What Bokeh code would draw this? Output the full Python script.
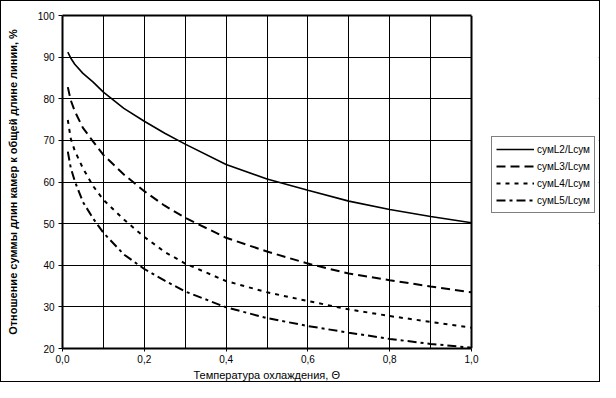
from bokeh.plotting import figure
from bokeh.models import (Legend, LegendItem, FixedTicker, CustomJSTickFormatter, ColumnDataSource,
                          BoxAnnotation, Span, LinearAxis, Title)
from bokeh.embed import file_html
from bokeh.resources import INLINE

theta = [0.013, 0.02, 0.03, 0.05, 0.075, 0.1, 0.15, 0.2, 0.25, 0.3, 0.4, 0.5, 0.6, 0.7, 0.8, 0.9, 1.0]
L2 = [91.2, 89.8, 88.3, 86.1, 84.0, 81.6, 77.7, 74.6, 71.7, 69.1, 64.2, 60.7, 58.0, 55.4, 53.4, 51.7, 50.2]
L3 = [82.8, 79.7, 77.0, 73.0, 69.7, 66.5, 61.8, 57.8, 54.3, 51.4, 46.6, 43.3, 40.4, 38.0, 36.4, 34.9, 33.5]
L4 = [74.9, 70.5, 67.5, 63.3, 59.0, 55.7, 51.0, 46.8, 43.2, 40.4, 36.2, 33.5, 31.4, 29.4, 27.8, 26.4, 25.0]
L5 = [67.3, 63.5, 60.2, 55.2, 51.2, 47.8, 42.6, 39.1, 36.3, 33.7, 29.9, 27.3, 25.4, 23.8, 22.3, 21.1, 20.2]
series_names = ["сумL2/Lсум", "сумL3/Lсум", "сумL4/Lсум", "сумL5/Lсум"]
x_title = "Температура охлаждения, Θ"
y_title = "Отношение суммы длин камер к общей длине линии, %"

x_ticks = [0.0, 0.2, 0.4, 0.6, 0.8, 1.0]
x_grid = [0.1, 0.2, 0.3, 0.4, 0.5, 0.6, 0.7, 0.8, 0.9]
y_ticks = [20, 30, 40, 50, 60, 70, 80, 90, 100]
x_min, x_max = 0.0, 1.0
y_min, y_max = 20, 100

FONT = "Liberation Sans"

PLOT_W = 409                 # width of the 0..1 plot area in px
FRAME_W = 536                # frame extended to the right to host the legend
FRAME_H = 333
x_end = x_max * FRAME_W / PLOT_W

p = figure(frame_width=FRAME_W, frame_height=FRAME_H, x_range=(x_min, x_end), y_range=(y_min, y_max),
           output_backend="svg", toolbar_location=None,
           min_border_left=61, min_border_right=1, min_border_top=14, min_border_bottom=33)
p.styles = {"border": "1px solid black"}
p.background_fill_color = "white"
p.border_fill_color = "white"
p.outline_line_color = None

src = ColumnDataSource(dict(theta=theta, L2=L2, L3=L3, L4=L4, L5=L5))
r2 = p.line("theta", "L2", source=src, line_color="black", line_width=1.6)
r3 = p.line("theta", "L3", source=src, line_color="black", line_width=2, line_dash="9 5")
r4 = p.line("theta", "L4", source=src, line_color="black", line_width=2, line_dash="4 5")
r5 = p.line("theta", "L5", source=src, line_color="black", line_width=2, line_dash="9 4 3 4")

xa = p.below[0]
ya = p.left[0]

fmt = CustomJSTickFormatter(code="return tick.toFixed(1).replace('.', ',');")
xa.ticker = FixedTicker(ticks=x_ticks)
xa.formatter = fmt
xa.bounds = (x_min, x_max)
ya.ticker = FixedTicker(ticks=y_ticks)
p.xgrid.ticker = FixedTicker(ticks=x_grid)
p.ygrid.ticker = FixedTicker(ticks=y_ticks)
for g in (p.xgrid, p.ygrid):
    g.grid_line_color = "black"
    g.grid_line_width = 1
    g.grid_line_alpha = 1

for ax in (xa, ya):
    ax.axis_line_width = 2
    ax.axis_line_color = "black"
    ax.major_tick_out = 4
    ax.major_tick_in = 0
    ax.minor_tick_out = 0
    ax.minor_tick_in = 0
    ax.major_label_text_font = FONT
    ax.major_label_text_font_size = "10px"
    ax.major_label_text_color = "black"
    ax.major_label_standoff = 4
    ax.axis_label_text_font = FONT
    ax.axis_label_text_color = "black"

xa.major_tick_out = 3
xa.major_label_standoff = 3
ya.axis_label = y_title
ya.axis_label_text_font_size = "11px"
ya.axis_label_text_font_style = "bold"
ya.axis_label_standoff = 16

# x-axis title centred under the 0..1 plot area (not the extended frame)
xt = Title(text=x_title, align="left", offset=131, standoff=2,
           text_font=FONT, text_font_size="11px", text_font_style="normal", text_color="black")
p.add_layout(xt, "below")

# blank out the grid beyond the right end of the plot area
p.add_layout(BoxAnnotation(left=x_max, fill_color="white", fill_alpha=1, line_color=None, level="underlay"))
# right border of plot area
p.add_layout(Span(location=x_max, dimension="height", line_color="black", line_width=2))
# top border of plot area
top_axis = LinearAxis(ticker=FixedTicker(ticks=[]), bounds=(x_min, x_max), axis_line_width=2,
                      axis_line_color="black", major_tick_out=0, major_tick_in=0,
                      minor_tick_out=0, minor_tick_in=0, major_label_text_font_size="0px",
                      major_label_standoff=0)
p.add_layout(top_axis, "above")

legend = Legend(items=[LegendItem(label=series_names[0], renderers=[r2]),
                       LegendItem(label=series_names[1], renderers=[r3]),
                       LegendItem(label=series_names[2], renderers=[r4]),
                       LegendItem(label=series_names[3], renderers=[r5])],
                location=(429, 135), orientation="vertical")
legend.border_line_color = "black"
legend.border_line_width = 1
legend.background_fill_color = "white"
legend.background_fill_alpha = 1
legend.label_text_font = FONT
legend.label_text_font_size = "10px"
legend.label_text_color = "black"
legend.glyph_width = 38
legend.glyph_height = 16
legend.label_height = 16
legend.label_standoff = 3
legend.spacing = 1
legend.padding = 4
legend.margin = 0
p.add_layout(legend, "center")

open("out.html", "w").write(file_html(p, INLINE))
